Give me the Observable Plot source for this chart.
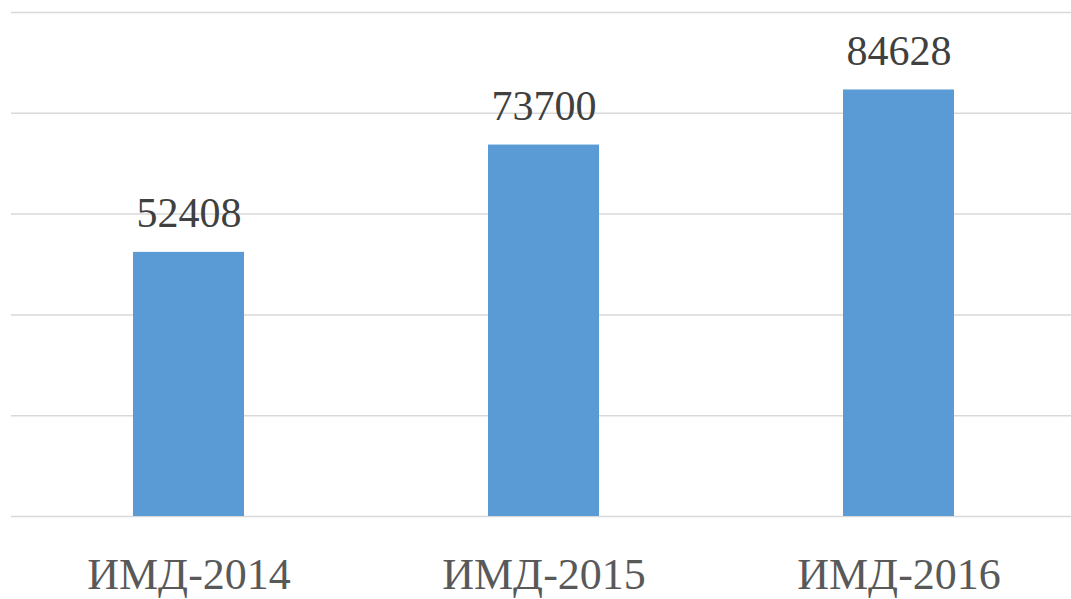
<!DOCTYPE html>
<html>
<head>
<meta charset="utf-8">
<script src="https://cdn.jsdelivr.net/npm/d3@7"></script>
<script src="https://cdn.jsdelivr.net/npm/@observablehq/plot@0.6"></script>
<style>
  html, body { margin: 0; padding: 0; background: #fff; }
  svg { display: block; }
</style>
</head>
<body>
<div id="chart"></div>
<script>
const categories = ["ИМД-2014", "ИМД-2015", "ИМД-2016"];
const values = [52408, 73700, 84628];
const yTicks = [0, 20000, 40000, 60000, 80000, 100000];

const data = categories.map((c, i) => ({category: c, value: values[i]}));

const chart = Plot.plot({
  width: 1071,
  height: 599,
  marginTop: 12,
  marginBottom: 83,
  marginLeft: 11,
  marginRight: 0,
  style: {background: "#fff", fontFamily: "'Liberation Serif', serif"},
  x: {domain: categories, range: [11, 1076], paddingInner: 0.687, paddingOuter: 0.3435, label: null},
  y: {domain: [0, 100000], label: null},
  marks: [
    Plot.ruleY(yTicks, {stroke: "#d9d9d9", strokeWidth: 1.5}),
    Plot.barY(data, {x: "category", y: "value", fill: "#5b9bd5"}),
    Plot.text(data, {x: "category", y: "value", text: d => String(d.value), dy: -25, lineAnchor: "bottom", fontSize: 42, fill: "#404040"}),
    Plot.axisX({tickSize: 0, tickPadding: 41, fontSize: 44, color: "#595959", fill: "#595959", label: null}),
    Plot.axisY({ticks: [], label: null, tickSize: 0})
  ]
});
document.getElementById("chart").appendChild(chart);
</script>
</body>
</html>
